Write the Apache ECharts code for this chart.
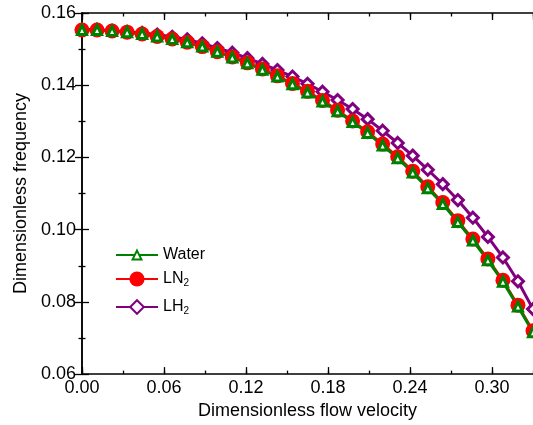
<!DOCTYPE html>
<html>
<head>
<meta charset="utf-8">
<script src="https://cdn.jsdelivr.net/npm/echarts@6/dist/echarts.min.js"></script>
<style>
html, body { margin: 0; padding: 0; background: #fff; }
#chart { width: 533px; height: 425px; }
</style>
</head>
<body>
<div id="chart"></div>
<script>
// Values
var velocity = [0.000, 0.011, 0.022, 0.033, 0.044, 0.055, 0.066, 0.077, 0.088, 0.099, 0.110,
    0.121, 0.132, 0.143, 0.154, 0.165, 0.176, 0.187, 0.198, 0.209, 0.220,
    0.231, 0.242, 0.253, 0.264, 0.275, 0.286, 0.297, 0.308, 0.319, 0.330];
var water = [0.1553, 0.1553, 0.1550, 0.1547, 0.1542, 0.1535, 0.1528, 0.1519, 0.1507, 0.1493, 0.1477,
    0.1461, 0.1443, 0.1424, 0.1403, 0.1380, 0.1355, 0.1328, 0.1298, 0.1268, 0.1233,
    0.1198, 0.1158, 0.1115, 0.1071, 0.1021, 0.0970, 0.0915, 0.0856, 0.0787, 0.0716];
var ln2 = [0.1553, 0.1553, 0.1550, 0.1547, 0.1542, 0.1535, 0.1528, 0.1519, 0.1507, 0.1493, 0.1478,
    0.1462, 0.1445, 0.1426, 0.1405, 0.1383, 0.1358, 0.1331, 0.1301, 0.1271, 0.1237,
    0.1202, 0.1162, 0.1119, 0.1075, 0.1025, 0.0974, 0.0919, 0.0860, 0.0791, 0.0720];
var lh2 = [0.1554, 0.1554, 0.1551, 0.1548, 0.1545, 0.1540, 0.1534, 0.1527, 0.1516, 0.1503, 0.1490,
    0.1475, 0.1459, 0.1442, 0.1424, 0.1404, 0.1382, 0.1359, 0.1334, 0.1306, 0.1274,
    0.1240, 0.1205, 0.1166, 0.1126, 0.1082, 0.1033, 0.0980, 0.0923, 0.0857, 0.0780];
var xTicks = { min: 0, max: 0.33, major: 0.06, minor: 0.03 };
var yTicks = { min: 0.06, max: 0.16, major: 0.02 };

var font = 'Liberation Sans, Arial, sans-serif';
var GREEN = '#008000', RED = '#ff0000', PURPLE = '#800080';

function pairs(ys) {
    var out = [];
    for (var i = 0; i < velocity.length; i++) {
        out.push([velocity[i], ys[i]]);
    }
    return out;
}

var chart = echarts.init(document.getElementById('chart'));

// x axes: major + minor ticks, bottom and top
function xAxisDef(position, interval, tickLen, withLabels) {
    return {
        type: 'value',
        position: position,
        min: xTicks.min,
        max: xTicks.max,
        interval: interval,
        splitLine: { show: false },
        axisLine: { show: tickLen > 4, lineStyle: { color: '#000', width: 1.5 } },
        axisTick: { show: true, inside: true, length: tickLen, lineStyle: { color: '#000', width: 1.3 } },
        axisLabel: {
            show: withLabels,
            showMaxLabel: false,
            margin: 5,
            color: '#000',
            fontSize: 18,
            fontFamily: font,
            formatter: function (v) { return v.toFixed(2); }
        },
        name: withLabels ? 'Dimensionless flow velocity' : '',
        nameLocation: 'middle',
        nameGap: 24,
        nameTextStyle: { color: '#000', fontSize: 18, fontFamily: font }
    };
}

function yAxisDef(position, withLabels) {
    return {
        type: 'value',
        position: position,
        min: yTicks.min,
        max: yTicks.max,
        interval: yTicks.major,
        splitLine: { show: false },
        axisLine: { show: true, lineStyle: { color: '#000', width: 1.5 } },
        axisTick: { show: true, inside: true, length: 7, lineStyle: { color: '#000', width: 1.3 } },
        minorTick: { show: true, splitNumber: 2, length: 3.5, lineStyle: { color: '#000', width: 1.3 } },
        axisLabel: {
            show: withLabels,
            margin: 6,
            color: '#000',
            fontSize: 18,
            fontFamily: font,
            formatter: function (v) { return v.toFixed(2); }
        },
        name: withLabels ? 'Dimensionless frequency' : '',
        nameLocation: 'middle',
        nameGap: 38,
        nameTextStyle: { color: '#000', fontSize: 18, fontFamily: font }
    };
}

function legendDef(name, top, iconH) {
    return {
        data: [name],
        orient: 'vertical',
        left: 115,
        top: top,
        padding: 0,
        itemWidth: 42,
        itemHeight: iconH,
        selectedMode: false,
        textStyle: {
            color: '#000',
            fontSize: 16,
            fontFamily: font,
            rich: {
                s: { fontSize: 10, fontFamily: font, color: '#000', padding: [9, 0, 0, 0] }
            }
        },
        formatter: function (n) {
            if (n === 'LN2') return 'LN{s|2}';
            if (n === 'LH2') return 'LH{s|2}';
            return n;
        }
    };
}

chart.setOption({
    animation: false,
    backgroundColor: '#fff',
    grid: { left: 82, top: 13, right: -4, bottom: 48 },
    xAxis: [
        xAxisDef('bottom', xTicks.major, 7, true),
        xAxisDef('bottom', xTicks.minor, 3.5, false),
        xAxisDef('top', xTicks.major, 7, false),
        xAxisDef('top', xTicks.minor, 3.5, false)
    ],
    yAxis: [
        yAxisDef('left', true),
        yAxisDef('right', false)
    ],
    legend: [
        legendDef('Water', 247, 11),
        legendDef('LN2', 271, 19),
        legendDef('LH2', 299, 17)
    ],
    series: [{
        name: 'LH2',
        type: 'line',
        data: pairs(lh2),
        symbol: 'diamond',
        symbolSize: 11,
        lineStyle: { color: PURPLE, width: 3 },
        itemStyle: { color: '#fff', borderColor: PURPLE, borderWidth: 3 }
    }, {
        name: 'LN2',
        type: 'line',
        data: pairs(ln2),
        symbol: 'circle',
        symbolSize: 15,
        lineStyle: { color: RED, width: 2.5 },
        itemStyle: { color: RED }
    }, {
        name: 'Water',
        type: 'line',
        data: pairs(water),
        symbol: 'triangle',
        symbolSize: 9,
        lineStyle: { color: GREEN, width: 3 },
        itemStyle: { color: '#fff', borderColor: GREEN, borderWidth: 3 }
    }]
});
</script>
</body>
</html>
